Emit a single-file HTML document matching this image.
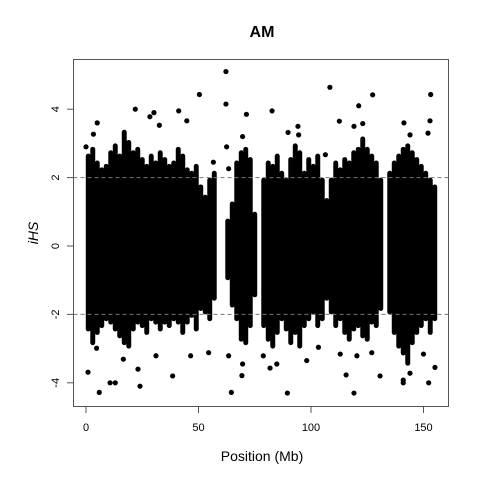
<!DOCTYPE html>
<html><head><meta charset="utf-8"><style>
body{margin:0;background:#fff}
svg{display:block;font-family:"Liberation Sans",sans-serif}
</style></head><body>
<svg id="chart" width="480" height="480" viewBox="0 0 480 480">
<text x="262" y="37" text-anchor="middle" font-size="16" font-weight="bold">AM</text>
<text x="262" y="461" text-anchor="middle" font-size="14">Position (Mb)</text>
<text transform="translate(38,233) rotate(-90)" text-anchor="middle" font-size="14" font-style="italic">iHS</text>
<g id="marks"></g>
<g id="axes"></g>
<rect x="73.5" y="59.5" width="375" height="347" fill="none" stroke="#555" stroke-width="1"/>
</svg>
<script>
const colPos=[1,3,5,7,9,11,13,15,17,19,21,23,25,27,29,31,33,35,37,39,41,43,45,47,49,51,
53,55,57,
63,65,67,69,71,73,75,
79,81,83,85,87,89,91,93,95,97,99,101,103,105,107,109,111,113,115,117,119,121,123,125,127,129,131,
135,137,139,141,143,145,147,149,151,153,155];
const colHi=[2.7,2.9,2.5,2.3,2.4,2.8,3.0,2.7,3.4,3.1,2.8,2.9,2.6,2.4,2.7,2.5,2.8,2.6,2.4,2.5,2.9,2.7,2.3,2.2,2.4,1.8,
1.5,2.0,2.2,
0.8,1.3,2.5,2.8,2.9,2.6,1.0,
2.0,2.5,2.4,2.7,2.2,2.0,2.6,3.0,2.8,2.2,2.6,2.4,2.7,2.0,1.4,2.0,2.5,2.3,2.6,2.5,2.8,2.9,3.2,2.9,2.7,2.5,2.0,
2.2,2.5,2.7,2.9,3.0,2.8,2.6,2.4,2.2,2.0,1.8];
const colLo=[-2.5,-2.9,-2.6,-2.4,-2.2,-2.3,-2.5,-2.7,-2.9,-3.0,-2.5,-2.3,-2.4,-2.6,-2.2,-2.3,-2.5,-2.3,-2.4,-2.2,-2.3,-2.6,-2.3,-2.1,-2.5,-1.9,
-2.0,-2.2,-1.6,
-1.0,-1.8,-2.2,-2.8,-2.9,-2.4,-1.5,
-2.4,-2.8,-3.0,-2.6,-2.2,-2.5,-2.9,-2.6,-3.0,-2.4,-2.2,-2.0,-2.4,-2.2,-1.6,-2.0,-2.4,-2.2,-2.6,-2.8,-2.5,-2.4,-2.7,-2.8,-2.3,-2.4,-1.9,
-2.0,-2.6,-3.0,-3.2,-3.5,-2.9,-2.6,-2.4,-2.2,-2.6,-2.2];
const outX=[62.2,50.4,108.4,127.4,153.2,21.9,41.2,62.2,71.3,82.7,121.2,0,5,30.2,94.2,141.3,5.9,24,64.6,89.5,119.1,152.3,38.5,13,69.3,141,130.7,155.1,0.9,81.8,54.5,115.6,103.3,
3.3,28.4,32.6,44.8,89.8,94.5,112.6,119.1,123,144,152.9,152,62.5,69.6,56.6,63.4,106.4,
4.7,16.6,23.1,31.1,46.5,63.4,69.6,78.8,84.8,98.1,113,120.4,127,150,144,141,10.7];
const outY=[5.1,4.43,4.64,4.42,4.43,4.0,3.95,4.15,3.85,3.95,4.1,2.9,3.6,3.9,3.5,3.6,-4.28,-4.1,-4.28,-4.3,-4.3,-4.0,-3.8,-4.0,-3.79,-4.0,-3.8,-3.55,-3.69,-3.57,-3.12,-3.77,-2.96,
3.27,3.78,3.53,3.66,3.32,3.25,3.65,3.5,3.58,3.25,3.66,3.3,2.9,3.2,2.45,2.26,2.67,
-2.99,-3.31,-3.6,-3.21,-3.21,-3.21,-3.45,-3.21,-3.45,-3.35,-3.16,-3.21,-3.12,-3.16,-3.72,-3.92,-4.0];
const xTicks=[0,50,100,150];
const yTicks=[-4,-2,0,2,4];
const NS="http://www.w3.org/2000/svg";
const sx=v=>86+v*2.25, sy=v=>246-v*34.2;
const marks=document.getElementById('marks'), axes=document.getElementById('axes');
function mk(tag,attrs,parent){const e=document.createElementNS(NS,tag);for(const k in attrs)e.setAttribute(k,attrs[k]);parent.appendChild(e);return e;}
colPos.forEach((p,i)=>{
  const r=mk('rect',{x:sx(p-1.1),y:sy(colHi[i]),width:2.25*2.2,height:sy(colLo[i])-sy(colHi[i]),rx:2.5,fill:'#000'},marks);
  
  
});
outX.forEach((p,i)=>{
  const c=mk('circle',{cx:sx(p),cy:sy(outY[i]),r:2.6,fill:'#000'},marks);
  
  
});
[2,-2].forEach(v=>{
  const l=mk('line',{x1:73.5,x2:448.5,y1:sy(v),y2:sy(v),stroke:'#777','stroke-dasharray':'4,3','stroke-width':1},axes);
  
  
});
xTicks.forEach(t=>{
  const l=mk('line',{x1:sx(t),x2:sx(t),y1:406.5,y2:413,stroke:'#555'},axes);
  
  
  const tx=mk('text',{x:sx(t),y:431,'text-anchor':'middle','font-size':11},axes);
  tx.textContent=t;
  
  
});
yTicks.forEach(t=>{
  const l=mk('line',{x1:67,x2:73.5,y1:sy(t),y2:sy(t),stroke:'#555'},axes);
  
  
  const tx=mk('text',{transform:`translate(59,${sy(t)}) rotate(-90)`,'text-anchor':'middle','font-size':11},axes);
  tx.textContent=t;
  
  
});
</script>
</body></html>
